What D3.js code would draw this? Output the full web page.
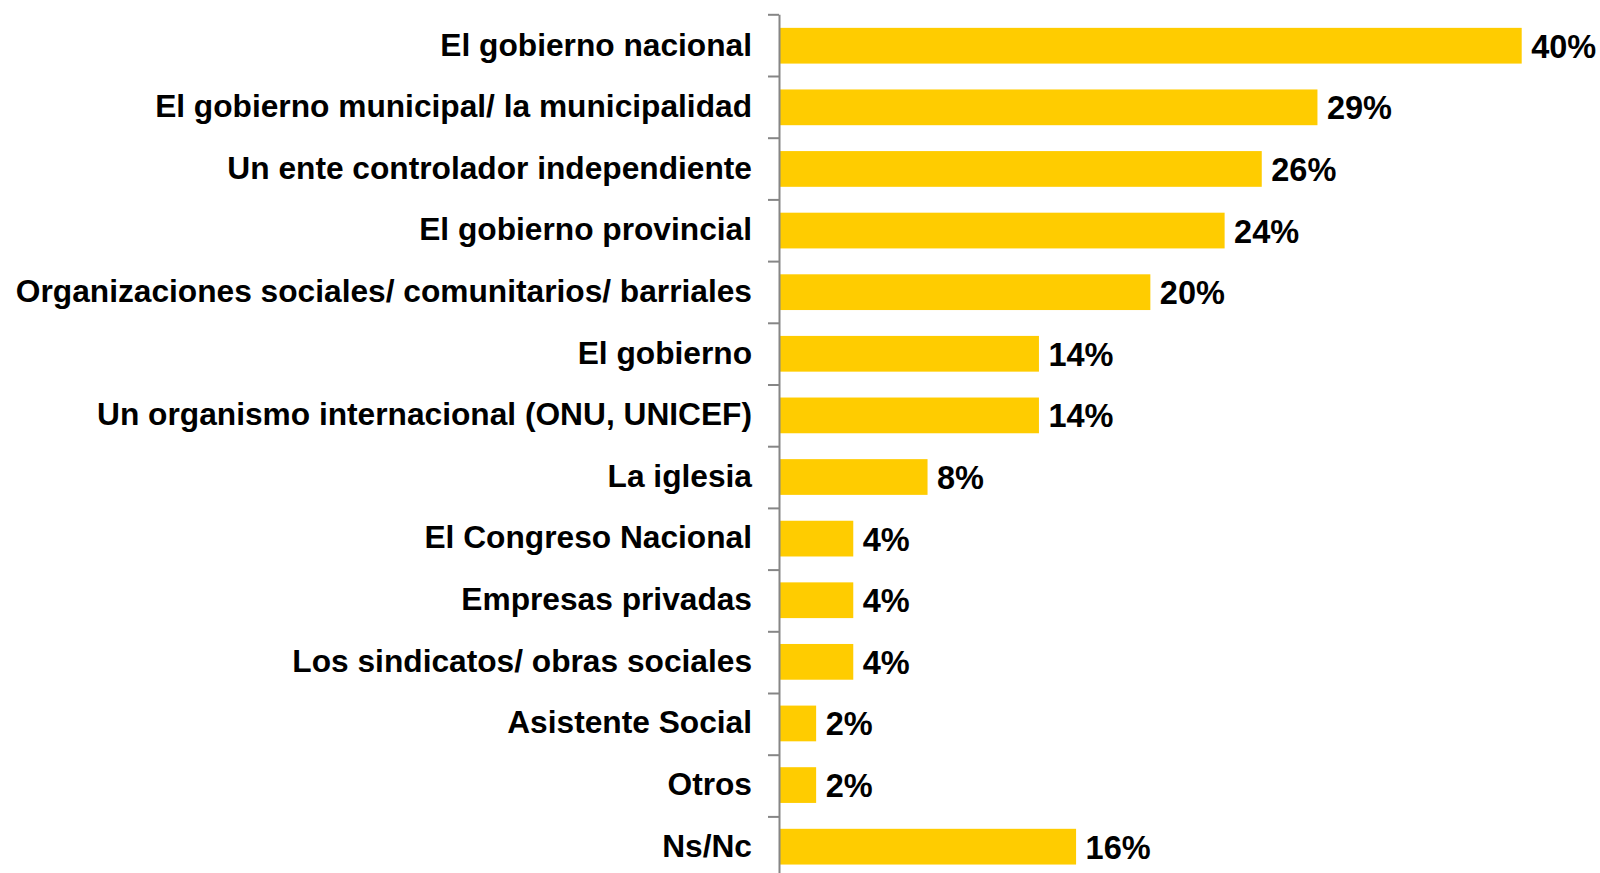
<!DOCTYPE html>
<html>
<head>
<meta charset="utf-8">
<script src="https://cdn.jsdelivr.net/npm/d3@7"></script>
<style>
  html, body { margin: 0; padding: 0; background: #fff; }
  svg text { font-family: "Liberation Sans", Arial, sans-serif; font-weight: bold; fill: #000; }
</style>
</head>
<body>
<svg id="chart" width="1600" height="873"></svg>
<script>
const categories = [
    'El gobierno nacional',
    'El gobierno municipal/ la municipalidad',
    'Un ente controlador independiente',
    'El gobierno provincial',
    'Organizaciones sociales/ comunitarios/ barriales',
    'El gobierno',
    'Un organismo internacional (ONU, UNICEF)',
    'La iglesia',
    'El Congreso Nacional',
    'Empresas privadas',
    'Los sindicatos/ obras sociales',
    'Asistente Social',
    'Otros',
    'Ns/Nc'
];
const values = [40, 29, 26, 24, 20, 14, 14, 8, 4, 4, 4, 2, 2, 16];

const margin = { top: 14.3, left: 779 };
const step = 61.7;
const innerHeight = step * categories.length;
const svg = d3.select('#chart');

const g = svg.append('g')
    .attr('transform', `translate(${margin.left},${margin.top})`);

const x = d3.scaleLinear()
    .domain([0, 40])
    .range([0, 742.7]);

// one band per category, bars centred in their band
const y = d3.scaleBand()
    .domain(categories)
    .range([0, innerHeight])
    .paddingInner(0.42)
    .paddingOuter(0.22);

// tick marks sit between the categories
const yTicks = d3.scaleLinear()
    .domain([0, categories.length])
    .range([0, innerHeight]);

g.append('g')
    .attr('class', 'bars')
    .selectAll('rect')
    .data(values)
    .join('rect')
    .attr('x', 0)
    .attr('y', (d, i) => y(categories[i]))
    .attr('width', d => x(d))
    .attr('height', y.bandwidth())
    .attr('fill', '#FFCC00');

const tickAxis = g.append('g')
    .attr('class', 'tick-axis')
    .call(d3.axisLeft(yTicks)
        .tickValues(d3.range(0, categories.length + 1))
        .tickFormat('')
        .tickSizeInner(11)
        .tickSizeOuter(0));
tickAxis.selectAll('line').attr('stroke', '#868686').attr('stroke-width', 2);
tickAxis.select('.domain').attr('stroke', '#868686').attr('stroke-width', 2);

const labelAxis = g.append('g')
    .attr('class', 'label-axis')
    .call(d3.axisLeft(y).tickSize(0).tickPadding(27));
labelAxis.select('.domain').remove();
labelAxis.selectAll('text')
    .style('font-size', '31.7px')
    .attr('dy', '0.31em');

g.append('g')
    .attr('class', 'values')
    .selectAll('text')
    .data(values)
    .join('text')
    .attr('x', d => x(d) + 9.5)
    .attr('y', (d, i) => y(categories[i]) + y.bandwidth() / 2)
    .attr('dy', '0.37em')
    .style('font-size', '32.5px')
    .text(d => d + '%');
</script>
</body>
</html>
